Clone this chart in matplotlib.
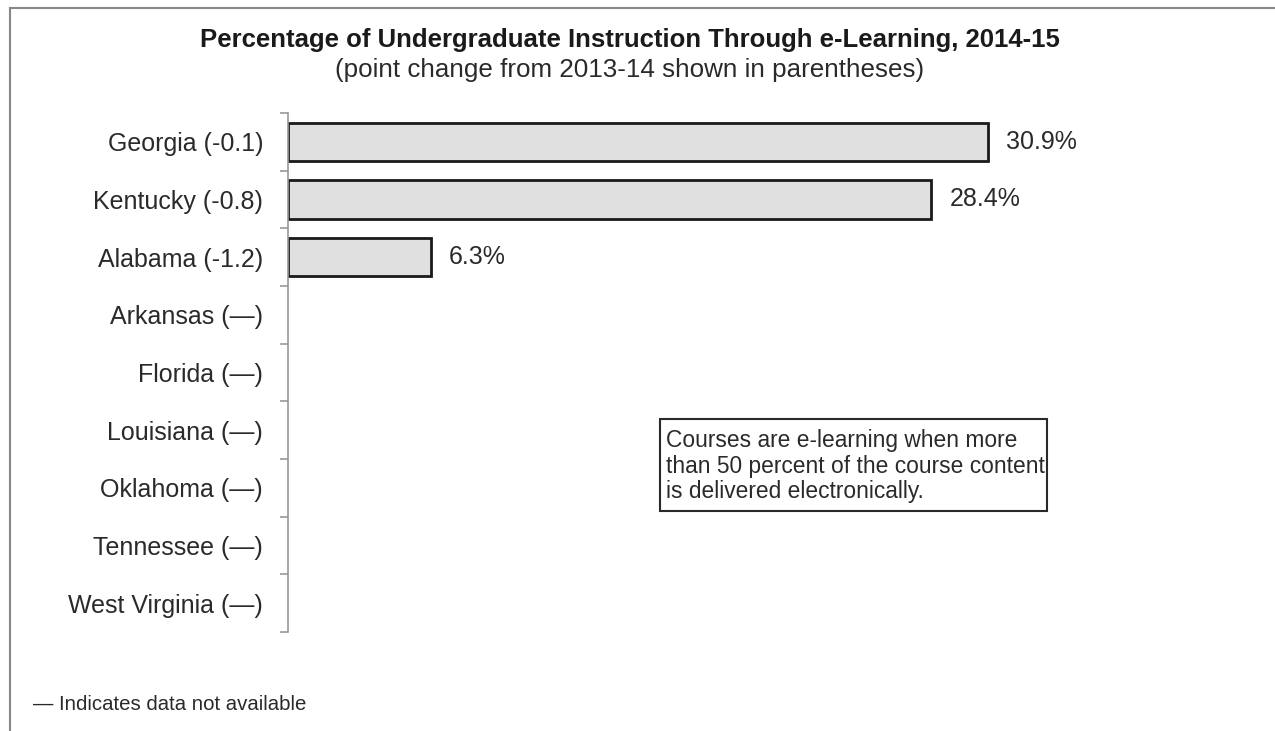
import matplotlib
matplotlib.use("Agg")
import matplotlib.pyplot as plt
from matplotlib.patches import Rectangle
from matplotlib.lines import Line2D
import numpy as np

states = ["Georgia (-0.1)", "Kentucky (-0.8)", "Alabama (-1.2)", "Arkansas (\u2014)",
          "Florida (\u2014)", "Louisiana (\u2014)", "Oklahoma (\u2014)", "Tennessee (\u2014)",
          "West Virginia (\u2014)"]
values = [30.9, 28.4, 6.3, None, None, None, None, None, None]
value_labels = ["30.9%", "28.4%", "6.3%"]

W, H = 1275, 731
fig = plt.figure(figsize=(W/100, H/100), dpi=100)
plt.rcParams['font.family'] = ['Liberation Sans', 'DejaVu Sans']
txt = '#2a2a2a'

# frame lines (top and left)
fig.add_artist(Line2D([10/W, 1], [1-8/H, 1-8/H], color='#888888', lw=1.5, transform=fig.transFigure))
fig.add_artist(Line2D([10/W, 10/W], [0, 1-8/H], color='#888888', lw=1.5, transform=fig.transFigure))

ax_left, ax_right = 288, 1194
ax_top, ax_bot = 113, 632
px_per_unit = 22.65
ax = fig.add_axes([ax_left/W, 1-ax_bot/H, (ax_right-ax_left)/W, (ax_bot-ax_top)/H])
n = len(states)
y = np.arange(n)
for i, v in enumerate(values):
    if v is not None:
        ax.barh(i, v, height=0.67, color='#e0e0e0', edgecolor='#1a1a1a', linewidth=2)
        ax.text(v + 18/px_per_unit, i, value_labels[i], va='center', ha='left', fontsize=18, color=txt)
ax.set_xlim(0, (ax_right-ax_left)/px_per_unit)
ax.set_ylim(n-0.5, -0.5)
ax.set_yticks(y)
ax.set_yticklabels(states, fontsize=18, color=txt)
ax.tick_params(axis='y', length=0, pad=18)
ax.set_yticks(np.arange(-0.5, n, 1), minor=True)
ax.tick_params(axis='y', which='minor', length=6, width=1.2, color='#999999')
ax.set_xticks([])
for s in ['top', 'right', 'bottom']:
    ax.spines[s].set_visible(False)
ax.spines['left'].set_color('#999999')
ax.spines['left'].set_linewidth(1.2)
ax.patch.set_alpha(0)

# titles
fig.text(630/W, 1-40/H, "Percentage of Undergraduate Instruction Through e-Learning, 2014-15",
         ha='center', va='center', fontsize=18.5, fontweight='bold', color='#1a1a1a')
fig.text(630/W, 1-70/H, "(point change from 2013-14 shown in parentheses)",
         ha='center', va='center', fontsize=18.7, color=txt)

# note box
fig.add_artist(Rectangle((660/W, 1-511/H), (1047-660)/W, (511-419)/H, transform=fig.transFigure,
                         fill=False, edgecolor='#2a2a2a', lw=1.5))
fig.text(666/W, 1-466/H, "Courses are e-learning when more\nthan 50 percent of the course content\nis delivered electronically.",
         ha='left', va='center', fontsize=16.4, color=txt, linespacing=1.12)

fig.text(33/W, 1-704/H, "\u2014 Indicates data not available", ha='left', va='center', fontsize=14.7, color=txt)

fig.savefig("out.png", dpi=100, facecolor='white')
